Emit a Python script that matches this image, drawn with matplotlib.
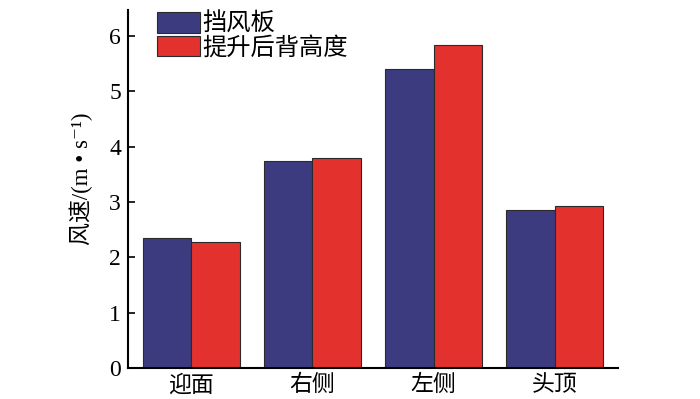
import matplotlib
matplotlib.use("Agg")
import matplotlib.pyplot as plt
import numpy as np

categories = ["迎面", "右侧", "左侧", "头顶"]
series_names = ["挡风板", "提升后背高度"]
baffle = [2.35, 3.74, 5.41, 2.85]
raised = [2.27, 3.79, 5.84, 2.93]
yticks = [0, 1, 2, 3, 4, 5, 6]

fam = ["Liberation Serif", "Noto Sans CJK SC", "DejaVu Serif"]
plt.rcParams["font.family"] = fam

fig = plt.figure(figsize=(7.0, 3.99), dpi=100)
ax = fig.add_axes([128/700, 31/399, 490/700, 358/399])

x = np.arange(len(categories))
w = 0.4
ax.bar(x - w/2, baffle, w, color="#3d3b80", edgecolor="#2a2a2a", linewidth=0.8, label=series_names[0])
ax.bar(x + w/2, raised, w, color="#e3312d", edgecolor="#2a2a2a", linewidth=0.8, label=series_names[1])

ax.set_xlim(-0.52, 3.52)
ax.set_ylim(0, 6.47)
ax.set_xticks(x)
ax.set_xticklabels(categories, fontsize=16.5)
ax.set_yticks(yticks)
ax.set_yticklabels([str(v) for v in yticks], fontsize=17)
ax.tick_params(axis="x", length=0, pad=5)
ax.tick_params(axis="y", direction="in", length=5, width=1.2, pad=5)
for s in ["top", "right"]:
    ax.spines[s].set_visible(False)
for s in ["left", "bottom"]:
    ax.spines[s].set_linewidth(1.5)

ax.set_ylabel("风速/(m • s\u207b\u00b9)", fontsize=16.5)
ax.yaxis.set_label_coords(-0.072, 0.53)

leg = ax.legend(loc="upper left", bbox_to_anchor=(0.055, 1.0), frameon=False,
                fontsize=17.5, handlelength=1.75, handleheight=0.9,
                handletextpad=0.1, labelspacing=0.0, borderpad=0.1, borderaxespad=0.0)

fig.savefig("out.png", dpi=100)
